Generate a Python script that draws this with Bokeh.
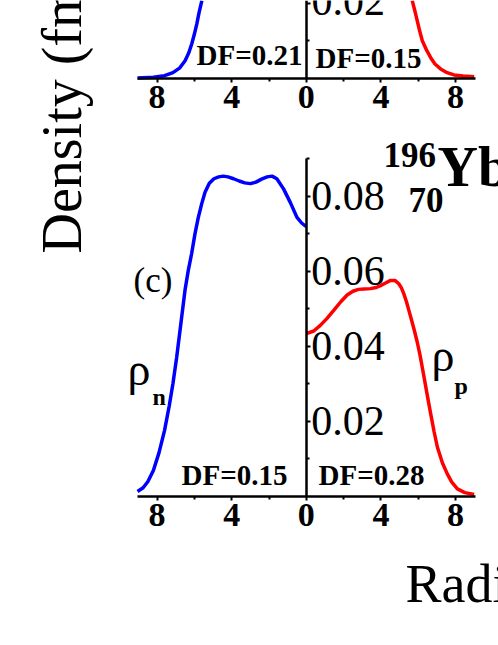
import math
from bokeh.plotting import figure
from bokeh.models import Range1d, LinearAxis, FixedTicker, CustomJSTickFormatter, PrintfTickFormatter
from bokeh.core.properties import value
from bokeh.embed import file_html
from bokeh.resources import INLINE

# ---------------- data ----------------
# panel (c): 196/70 Yb, neutron density (drawn mirrored to the left)
r_n_c = [0.0, 0.25, 0.5, 0.86, 1.22, 1.58, 1.84, 2.1, 2.4, 2.7, 3.0, 3.3, 3.6, 3.9,
         4.2, 4.45, 4.7, 4.95, 5.2, 5.43, 5.61, 5.79, 5.97, 6.15, 6.33, 6.5, 6.7,
         6.95, 7.15, 7.35, 7.6, 7.9, 8.2, 8.5, 8.75, 9.05]
rho_n_c = [0.0718, 0.0728, 0.0743, 0.0783, 0.0819, 0.0846, 0.0853, 0.0851, 0.0845,
           0.0837, 0.0833, 0.0835, 0.0840, 0.0846, 0.0851, 0.0853, 0.0851, 0.0846,
           0.0834, 0.0810, 0.0779, 0.0743, 0.0699, 0.0646, 0.0601, 0.0550, 0.0470,
           0.0370, 0.0300, 0.0240, 0.0175, 0.0115, 0.0068, 0.0038, 0.0022, 0.0012]
# panel (c): proton density
r_p_c = [0.0, 0.4, 0.75, 1.1, 1.47, 1.85, 2.19, 2.5, 2.8, 3.1, 3.44, 3.75, 3.98, 4.25,
         4.52, 4.75, 4.96, 5.1, 5.23, 5.37, 5.5, 5.65, 5.8, 5.95, 6.1, 6.31, 6.5,
         6.67, 6.85, 7.03, 7.3, 7.56, 7.8, 8.1, 8.5, 9.0]
rho_p_c = [0.0433, 0.0440, 0.0455, 0.0473, 0.0495, 0.0518, 0.0536, 0.0546, 0.0551,
           0.0552, 0.0553, 0.0556, 0.0561, 0.0568, 0.0575, 0.0575, 0.0566, 0.0555,
           0.0539, 0.0518, 0.0495, 0.0468, 0.0440, 0.0410, 0.0375, 0.0318, 0.0265,
           0.0219, 0.0172, 0.0130, 0.0088, 0.0059, 0.0037, 0.0019, 0.0009, 0.0004]
# upper panel (only its lower part is visible)
r_n_b = [5.6, 5.75, 5.87, 6.0, 6.14, 6.3, 6.5, 6.8, 7.15, 7.6, 8.2, 9.05]
rho_n_b = [0.0207, 0.0175, 0.0145, 0.0118, 0.0092, 0.0068, 0.0047, 0.0027, 0.0015,
           0.0007, 0.0003, 0.0001]
r_p_b = [5.68, 5.82, 5.95, 6.08, 6.22, 6.45, 6.67, 6.9, 7.2, 7.55, 7.92, 8.4, 9.0]
rho_p_b = [0.0207, 0.0180, 0.0153, 0.0126, 0.0100, 0.0075, 0.0055, 0.0038, 0.0025,
           0.0015, 0.0009, 0.0006, 0.0004]

df_upper = ["DF=0.21", "DF=0.15"]
df_lower = ["DF=0.15", "DF=0.28"]
x_ticks = [-8, -4, 0, 4, 8]
x_minor = [-6, -2, 2, 6]
y_ticks = [0.02, 0.04, 0.06, 0.08]
y_minor = [0.01, 0.03, 0.05, 0.07, 0.09]
upper_cut_label = "0.02"

# ---------------- figure ----------------
W, H = 498, 645
X0, SX = 305.8, 18.65               # screen x of r=0, px per fm
Y0C, Y0B, SY = 495.5, 77.8, 3750.0  # screen y of rho=0 (lower / upper panel), px per fm^-3
BASE_FIX = 0.37                     # baseline correction (fraction of font size)

p = figure(width=W, height=H, output_backend="svg", toolbar_location=None,
           x_axis_type=None, y_axis_type=None, min_border=0,
           x_range=Range1d((0 - X0) / SX, (W - X0) / SX),
           y_range=Range1d((Y0C - H) / SY, Y0C / SY))
p.extra_y_ranges = {"top": Range1d((Y0B - H) / SY, Y0B / SY)}
p.outline_line_color = None
p.background_fill_color = "white"
p.border_fill_color = "white"

FONT = "Liberation Serif"
BLUE, RED = "#0000ff", "#ff0000"


def add_x_axis(rname=None):
    kw = dict(fixed_location=0, bounds=(-9.05, 9.05),
              ticker=FixedTicker(ticks=x_ticks, minor_ticks=x_minor),
              formatter=CustomJSTickFormatter(code="return String(Math.abs(tick))"),
              axis_line_width=2.5, axis_line_color="black",
              major_tick_out=4, major_tick_in=0, major_tick_line_width=2,
              minor_tick_out=3, minor_tick_in=0, minor_tick_line_width=2,
              major_label_standoff=4,
              major_label_text_font=FONT, major_label_text_font_style="bold",
              major_label_text_font_size="34px", major_label_text_color="black")
    if rname:
        kw["y_range_name"] = rname
    p.add_layout(LinearAxis(**kw), "below")


def add_y_axis(rname=None):
    if rname is None:
        fmt = PrintfTickFormatter(format="%.2f")
    else:
        # the upper panel's labels are cut by the picture edge; drawn as text below
        fmt = CustomJSTickFormatter(code="return ''")
    kw = dict(fixed_location=0, bounds=(0, 0.09 if rname is None else 0.1),
              ticker=FixedTicker(ticks=y_ticks, minor_ticks=y_minor),
              formatter=fmt,
              axis_line_width=2.5, axis_line_color="black",
              major_tick_out=4, major_tick_in=0, major_tick_line_width=2,
              minor_tick_out=3, minor_tick_in=0, minor_tick_line_width=2,
              major_label_standoff=1,
              major_label_text_font=FONT, major_label_text_font_style="normal",
              major_label_text_font_size="42px", major_label_text_color="black")
    if rname:
        kw["y_range_name"] = rname
    p.add_layout(LinearAxis(**kw), "right")


add_x_axis()
add_x_axis("top")
add_y_axis()
add_y_axis("top")

# curves
p.line([-r for r in r_n_c], rho_n_c, line_color=BLUE, line_width=3.5)
p.line(r_p_c, rho_p_c, line_color=RED, line_width=3.5)
p.line([-r for r in r_n_b], rho_n_b, line_color=BLUE, line_width=3.5, y_range_name="top")
p.line(r_p_b, rho_p_b, line_color=RED, line_width=3.5, y_range_name="top")


def txt(sx, sy, s, size, style="normal", align="left", rotated=False, upper=False):
    """sx, sy: left/right edge and baseline position on screen (px)."""
    if rotated:
        sx = sx - BASE_FIX * size
    else:
        sy = sy - BASE_FIX * size
    x = (sx - X0) / SX
    if upper:
        y = (Y0B - sy) / SY
    else:
        y = (Y0C - sy) / SY
    kw = dict(text_font=value(FONT), text_font_size=f"{size}px", text_font_style=style,
              text_align=align, text_baseline="alphabetic",
              angle=(math.pi / 2 if rotated else 0.0), text_color="black")
    if upper:
        kw["y_range_name"] = "top"
    p.text(x=[x], y=[y], text=[s], **kw)


# upper panel's y label, cut by the top edge
txt(311, 16, upper_cut_label, 42, upper=True)

# DF labels
txt(302, 65, df_upper[0], 29, "bold", align="right", upper=True)
txt(315, 68, df_upper[1], 29, "bold", upper=True)
txt(287, 485, df_lower[0], 29, "bold", align="right")
txt(318, 485, df_lower[1], 29, "bold")

# panel tag, density symbols
txt(133, 293, "(c)", 35)
txt(127, 386, "ρ", 46)
txt(152, 405, "n", 24, "bold")
txt(431, 372, "ρ", 46)
txt(454, 394, "p", 24, "bold")

# nucleus label
txt(383, 167, "196", 35, "bold")
txt(408, 212, "70", 35, "bold")
txt(437, 187, "Yb", 56, "bold")

# axis titles (cropped)
txt(82, 253, "Density (fm⁻³)", 56, rotated=True)
txt(405, 603, "Radius (fm)", 54)

open("out.html", "w").write(file_html(p, INLINE))
